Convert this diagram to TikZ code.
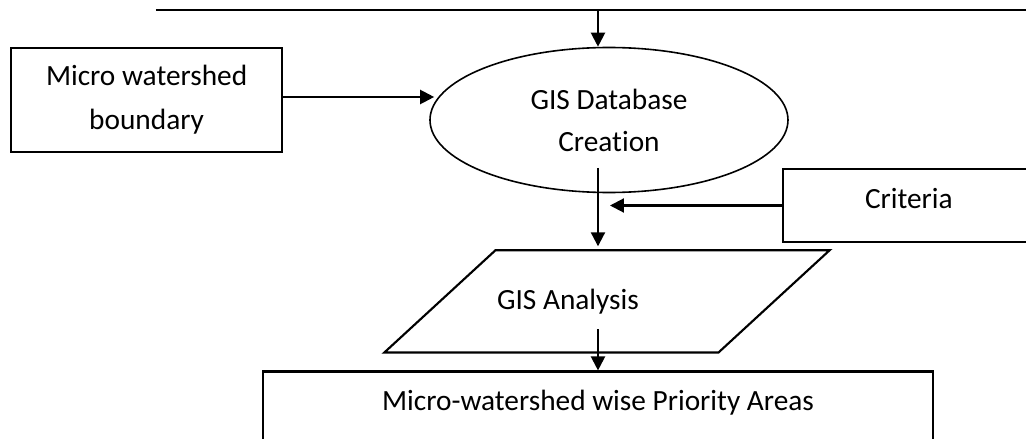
\documentclass[tikz,border=0pt]{standalone}
\usepackage{fontspec}
\setmainfont{Carlito}[Ligatures=CommonOff]
\usepackage{tikz}
\usetikzlibrary{positioning, shapes.geometric, arrows.meta}

\begin{document}
\begin{tikzpicture}[line width=1.6pt, font=\fontsize{22pt}{33pt}\selectfont,
        arr/.style={-{Triangle[length=10.5pt,width=10.5pt]}},
        proc/.style={draw, rectangle, inner sep=0pt, align=center},
        dbase/.style={draw, ellipse, line width=1.2pt, inner sep=0pt, align=center,
            minimum width=268.5pt, minimum height=108.75pt},
        io/.style={rectangle, inner sep=0pt, minimum width=332.25pt, minimum height=75pt}]
            \useasboundingbox (-456.75pt,-239.25pt) rectangle (312.75pt,90pt);
            \node[dbase] (db) at (0,0) {GIS Database\\[-1.5pt]Creation};
            \node[proc, minimum width=203.25pt, minimum height=78pt, left=109.5pt of db, yshift=15pt] (wsb) {Micro watershed\\boundary};
            \node[proc, minimum width=189pt, text height=29.5pt, text depth=25.25pt, right=-5.25pt of db, yshift=-64.125pt] (crit) {Criteria};
            \node[io, below=42.75pt of db, xshift=-1.5pt] (ana) {};
            \draw ([xshift=83.25pt]ana.north west) -- (ana.north east) -- ([xshift=-83.25pt]ana.south east) -- (ana.south west) -- cycle;
            \node at ([xshift=-29.25pt]ana.center) (anatxt) {GIS Analysis};
            \node[proc, minimum width=502.5pt, text height=29.5pt, text depth=40pt, below=13.5pt of ana, xshift=-6.75pt] (pri) {Micro-watershed wise Priority Areas};
            % feed line on top
            \coordinate (feed) at ([xshift=-8.25pt, yshift=27.75pt]db.north);
            \draw ([xshift=-331.5pt]feed) -- ([xshift=324pt]feed);
            \draw[arr] (feed) -- (feed |- db.north);
            \draw[arr, shorten >=-3.75pt] ([yshift=2.25pt]wsb.east) -- ([yshift=2.25pt]wsb.east -| db.west);
            \coordinate (dbout) at ([xshift=-8.25pt, yshift=-36pt]db.center);
            \draw[arr, shorten >=3pt] (dbout) -- (dbout |- ana.north);
            \draw[arr] (crit) -- ([xshift=9pt]dbout |- crit.west);
            \coordinate (anaout) at ([xshift=-6.75pt, yshift=-21pt]ana.center);
            \draw[arr] (anaout) -- (pri);
        \end{tikzpicture}
\end{document}
